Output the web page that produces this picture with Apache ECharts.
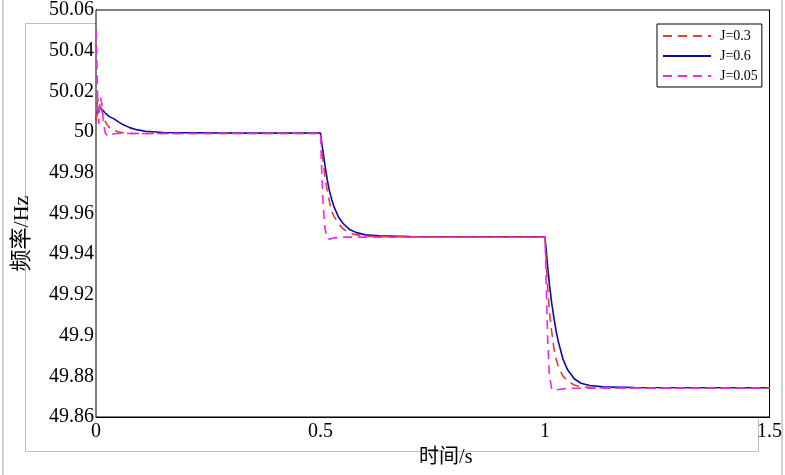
<!DOCTYPE html>
<html>
<head>
<meta charset="utf-8">
<script src="https://cdn.jsdelivr.net/npm/echarts@6/dist/echarts.min.js"></script>
<style>html,body{margin:0;padding:0;background:#fff;}#c{width:785px;height:475px;}</style>
</head>
<body>
<div id="c"></div>
<script>
// time samples (s)
const timeS = [0, 0.002, 0.004, 0.006, 0.008, 0.01, 0.013, 0.016, 0.02, 0.025, 0.03, 0.04, 0.05, 0.06, 0.075, 0.09, 0.11, 0.15, 0.3, 0.5,
  0.503, 0.506, 0.51, 0.515, 0.52, 0.525, 0.53, 0.54, 0.55, 0.565, 0.58, 0.6, 0.63, 0.7, 0.9, 1.0,
  1.003, 1.006, 1.01, 1.015, 1.02, 1.025, 1.03, 1.04, 1.05, 1.065, 1.08, 1.1, 1.13, 1.2, 1.5];
// J=0.6 (solid blue)
const freqJ06 = [50.006, 50.009, 50.011, 50.0118, 50.012, 50.0118, 50.0112, 50.0105, 50.0095, 50.0085, 50.0076, 50.0065, 50.005, 50.0037, 50.0022, 50.0012, 50.0004, 49.9998, 49.9995, 49.9995,
  49.9944, 49.9898, 49.9837, 49.9766, 49.9710, 49.9669, 49.9634, 49.9583, 49.9552, 49.9521, 49.9506, 49.9495, 49.9490, 49.9487, 49.9486, 49.9486,
  49.9412, 49.9338, 49.9249, 49.9159, 49.9085, 49.9019, 49.8967, 49.8885, 49.8833, 49.8788, 49.8766, 49.8755, 49.8748, 49.8745, 49.8744];
// J=0.3 (dashed red)
const freqJ03 = [50.005, 50.012, 50.016, 50.0165, 50.015, 50.013, 50.0105, 50.008, 50.0055, 50.0035, 50.0022, 50.0008, 50.0001, 49.9997, 49.9994, 49.9993, 49.9993, 49.9993, 49.9993, 49.9993,
  49.9917, 49.9850, 49.9779, 49.9713, 49.9657, 49.9611, 49.9586, 49.9550, 49.9525, 49.9504, 49.9495, 49.9489, 49.9486, 49.9485, 49.9484, 49.9484,
  49.9350, 49.9239, 49.9113, 49.9017, 49.8935, 49.8883, 49.8846, 49.8801, 49.8779, 49.8757, 49.8749, 49.8745, 49.8743, 49.8742, 49.8742];
// J=0.05 (dashed magenta)
const freqJ005 = [50.050, 50.035, 50.012, 50.004, 50.012, 50.017, 50.014, 50.006, 50.000, 49.998, 49.9985, 49.9992, 49.9993, 49.9993, 49.9993, 49.9993, 49.9993, 49.9993, 49.9993, 49.9993,
  49.9789, 49.9637, 49.9525, 49.9477, 49.9474, 49.9477, 49.9480, 49.9482, 49.9484, 49.9484, 49.9484, 49.9484, 49.9484, 49.9484, 49.9484, 49.9484,
  49.9224, 49.8979, 49.8801, 49.8735, 49.8731, 49.8733, 49.8735, 49.8738, 49.8740, 49.8741, 49.8742, 49.8742, 49.8742, 49.8742, 49.8742];
const seriesNames = ['J=0.3', 'J=0.6', 'J=0.05'];
const xTicks = [0, 0.5, 1, 1.5];
const yTicks = [49.86, 49.88, 49.9, 49.92, 49.94, 49.96, 49.98, 50, 50.02, 50.04, 50.06];

const pair = arr => timeS.map((t, i) => [t, arr[i]]);
const serif = '"Liberation Serif", "Noto Sans CJK SC", serif';
const fmt = v => String(parseFloat(Number(v).toFixed(2)));

const chart = echarts.init(document.getElementById('c'), null, {renderer: 'canvas'});
chart.setOption({
  animation: false,
  backgroundColor: '#fff',
  graphic: [
    {type: 'rect', z: -10, shape: {x: 25.5, y: 23.5, width: 733, height: 428}, style: {fill: 'none', stroke: '#bdbdbd', lineWidth: 1}},
    {type: 'line', z: -10, shape: {x1: 3, y1: 0, x2: 3, y2: 475}, style: {stroke: '#d0d0d0', lineWidth: 2}},
    {type: 'line', z: -10, shape: {x1: 782, y1: 0, x2: 782, y2: 475}, style: {stroke: '#d0d0d0', lineWidth: 2}}
  ],
  grid: {left: 96, top: 10, right: 11, bottom: 58, show: true, backgroundColor: '#fff', borderColor: '#000', borderWidth: 1, z: 1},
  legend: {
    data: seriesNames, orient: 'vertical', left: 657, top: 24,
    backgroundColor: '#fff', borderColor: '#000', borderWidth: 1, borderRadius: 0,
    padding: [4, 4, 3, 5], itemWidth: 48, itemHeight: 14, itemGap: 4,
    itemStyle: {opacity: 0},
    textStyle: {fontFamily: serif, fontSize: 14, color: '#000', lineHeight: 16, padding: [0, 0, 0, 4]}
  },
  xAxis: {
    type: 'value', min: 0, max: 1.5, interval: 0.5,
    name: '时间/s', nameLocation: 'middle', nameGap: 31,
    nameTextStyle: {fontFamily: serif, fontSize: 20, color: '#000', padding: [0, 0, 0, 26]},
    axisLine: {lineStyle: {color: '#000'}},
    axisTick: {inside: true, length: 5, lineStyle: {color: '#000'}},
    axisLabel: {fontFamily: serif, fontSize: 20, color: '#000', margin: 5, formatter: fmt},
    splitLine: {show: true, lineStyle: {color: '#b4b4b4', width: 1}}
  },
  yAxis: [{
    type: 'value', min: 49.86, max: 50.06, interval: 0.02,
    name: '频率/Hz', nameLocation: 'middle', nameGap: 63, nameRotate: 90,
    nameTextStyle: {fontFamily: serif, fontSize: 22, color: '#000', padding: [0, 40, 0, 0]},
    axisLine: {show: true, lineStyle: {color: '#000'}},
    axisTick: {show: true, inside: true, length: 5, lineStyle: {color: '#000'}},
    axisLabel: {fontFamily: serif, fontSize: 20, color: '#000', margin: 2, formatter: fmt},
    splitLine: {show: true, lineStyle: {color: '#b4b4b4', width: 1}}
  }, {
    type: 'value', min: 49.86, max: 50.06, interval: 0.02, position: 'right',
    axisLine: {show: true, lineStyle: {color: '#000'}},
    axisTick: {show: true, inside: true, length: 5, lineStyle: {color: '#000'}},
    axisLabel: {show: false}, splitLine: {show: false}
  }],
  series: [
    {name: 'J=0.6', type: 'line', data: pair(freqJ06), showSymbol: false, symbol: 'none', z: 3,
     lineStyle: {color: '#0a0aa8', width: 1.6, type: 'solid'}, itemStyle: {color: '#0a0aa8'}},
    {name: 'J=0.3', type: 'line', data: pair(freqJ03), showSymbol: false, symbol: 'none', z: 4,
     lineStyle: {color: '#e43c3c', width: 1.6, type: [9, 6]}, itemStyle: {color: '#e43c3c'}},
    {name: 'J=0.05', type: 'line', data: pair(freqJ005), showSymbol: false, symbol: 'none', z: 5,
     lineStyle: {color: '#ee28ee', width: 1.6, type: [9, 6]}, itemStyle: {color: '#ee28ee'}}
  ]
});
</script>
</body>
</html>
